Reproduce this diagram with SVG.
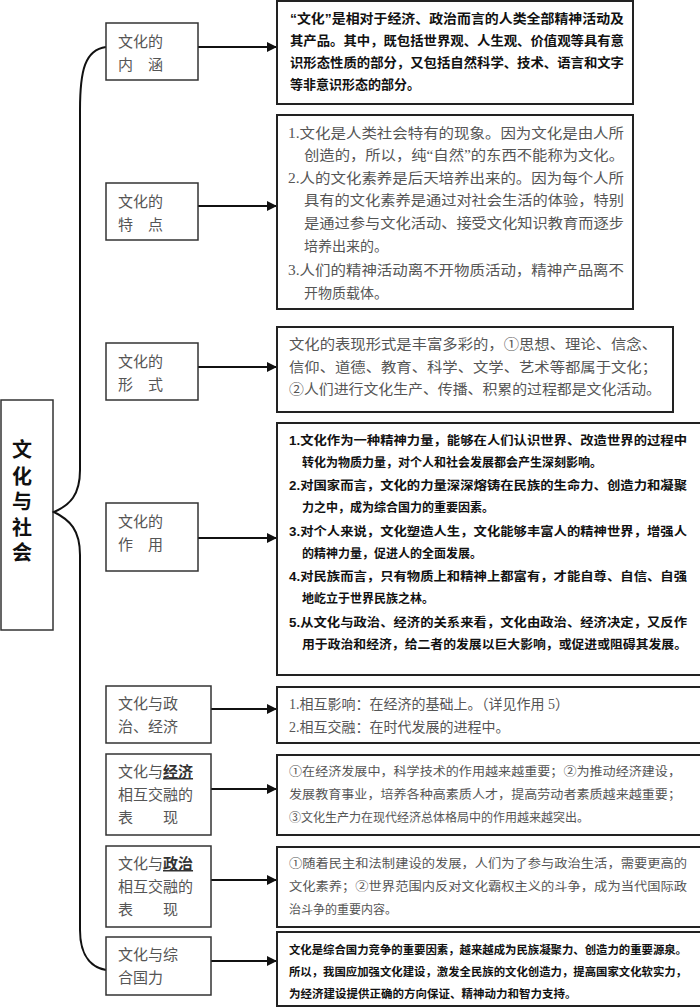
<svg xmlns="http://www.w3.org/2000/svg" width="700" height="1008" viewBox="0 0 700 1008">
<defs>
<style>
.box{fill:#fff;stroke:#222;stroke-width:2}
.nbox{fill:#fff;stroke:#333;stroke-width:1.5}
.n{font-family:"Liberation Serif","Noto Sans CJK SC",serif;font-size:15px;fill:#555}
.g{font-family:"Liberation Serif","Noto Sans CJK SC",serif;fill:#555}
.b{font-family:"Liberation Sans","Noto Sans CJK SC",sans-serif;font-weight:bold;fill:#111}
.c{fill:none;stroke:#111;stroke-width:2}
</style>
<marker id="ah" viewBox="0 0 10 10" refX="9" refY="5" markerWidth="5" markerHeight="5" orient="auto"><path d="M0,0L10,5L0,10z" fill="#111"/></marker>
</defs>
<rect width="700" height="1008" fill="#fff"/>
<g id="root"><rect class="nbox" x="1" y="400" width="52" height="230"/>
<text class="b" font-size="20" x="22" y="457" text-anchor="middle">文</text>
<text class="b" font-size="20" x="22" y="484" text-anchor="middle">化</text>
<text class="b" font-size="20" x="22" y="509" text-anchor="middle">与</text>
<text class="b" font-size="20" x="22" y="535" text-anchor="middle">社</text>
<text class="b" font-size="20" x="22" y="560" text-anchor="middle">会</text></g>
<g id="connectors">
<path class="c" d="M106,47 C85,50 80,70 80,110 L80,470 C80,495 70,505 54,512 C70,520 80,530 80,555 L80,930 C80,960 95,968 106,970"/>
<path class="c" d="M198,47 H276" marker-end="url(#ah)"/>
<path class="c" d="M198,206 H276" marker-end="url(#ah)"/>
<path class="c" d="M198,367 H276" marker-end="url(#ah)"/>
<path class="c" d="M198,538 H276" marker-end="url(#ah)"/>
<path class="c" d="M211,709 H276" marker-end="url(#ah)"/>
<path class="c" d="M211,789 H276" marker-end="url(#ah)"/>
<path class="c" d="M211,880 H276" marker-end="url(#ah)"/>
<path class="c" d="M211,961 H276" marker-end="url(#ah)"/>
</g>
<g id="n1"><rect class="nbox" x="106" y="23" width="92" height="57"/><text class="n" x="118" y="47">文化的</text><text class="n" x="118" y="70">内　涵</text></g>
<g id="n2"><rect class="nbox" x="106" y="183" width="92" height="57"/><text class="n" x="118" y="207">文化的</text><text class="n" x="118" y="230">特　点</text></g>
<g id="n3"><rect class="nbox" x="106" y="343" width="92" height="57"/><text class="n" x="118" y="367">文化的</text><text class="n" x="118" y="390">形　式</text></g>
<g id="n4"><rect class="nbox" x="106" y="503" width="92" height="68"/><text class="n" x="118" y="527">文化的</text><text class="n" x="118" y="550">作　用</text></g>
<g id="n5"><rect class="nbox" x="106" y="686" width="105" height="57"/><text class="n" x="118" y="709">文化与政</text><text class="n" x="118" y="732">治、经济</text></g>
<g id="n6"><rect class="nbox" x="106" y="754" width="105" height="81"/><text class="n" x="118" y="777">文化与<tspan text-decoration="underline" font-weight="bold" fill="#333">经济</tspan></text><text class="n" x="118" y="800">相互交融的</text><text class="n" x="118" y="823">表　　现</text></g>
<g id="n7"><rect class="nbox" x="106" y="846" width="105" height="81"/><text class="n" x="118" y="869">文化与<tspan text-decoration="underline" font-weight="bold" fill="#333">政治</tspan></text><text class="n" x="118" y="892">相互交融的</text><text class="n" x="118" y="915">表　　现</text></g>
<g id="n8"><rect class="nbox" x="106" y="937" width="105" height="58"/><text class="n" x="118" y="960">文化与综</text><text class="n" x="118" y="983">合国力</text></g>

<g id="t1"><rect class="box" x="277" y="1" width="356" height="103"/>
<g class="b" font-size="13"><text x="290" y="23" textLength="334" lengthAdjust="spacingAndGlyphs">“文化”是相对于经济、政治而言的人类全部精神活动及</text><text x="290" y="45" textLength="334" lengthAdjust="spacingAndGlyphs">其产品。其中，既包括世界观、人生观、价值观等具有意</text><text x="290" y="67" textLength="334" lengthAdjust="spacingAndGlyphs">识形态性质的部分，又包括自然科学、技术、语言和文字</text><text x="290" y="89">等非意识形态的部分。</text></g></g>
<g id="t2"><rect class="box" x="277" y="115" width="356" height="194"/>
<g class="g" font-size="14"><text x="288" y="138" textLength="336" lengthAdjust="spacingAndGlyphs">1.文化是人类社会特有的现象。因为文化是由人所</text><text x="304" y="160" textLength="320" lengthAdjust="spacingAndGlyphs">创造的，所以，纯“自然”的东西不能称为文化。</text><text x="288" y="183" textLength="336" lengthAdjust="spacingAndGlyphs">2.人的文化素养是后天培养出来的。因为每个人所</text><text x="304" y="205" textLength="320" lengthAdjust="spacingAndGlyphs">具有的文化素养是通过对社会生活的体验，特别</text><text x="304" y="228" textLength="320" lengthAdjust="spacingAndGlyphs">是通过参与文化活动、接受文化知识教育而逐步</text><text x="304" y="251">培养出来的。</text><text x="288" y="275" textLength="336" lengthAdjust="spacingAndGlyphs">3.人们的精神活动离不开物质活动，精神产品离不</text><text x="304" y="298">开物质载体。</text></g></g>
<g id="t3"><rect class="box" x="277" y="327" width="396" height="85"/>
<g class="g" font-size="14"><text x="289" y="349" textLength="368" lengthAdjust="spacingAndGlyphs">文化的表现形式是丰富多彩的，①思想、理论、信念、</text><text x="289" y="372" textLength="368" lengthAdjust="spacingAndGlyphs">信仰、道德、教育、科学、文学、艺术等都属于文化；</text><text x="289" y="394" textLength="372" lengthAdjust="spacingAndGlyphs">②人们进行文化生产、传播、积累的过程都是文化活动。</text></g></g>
<g id="t4"><rect class="box" x="277" y="423" width="430" height="252"/>
<g class="b" font-size="12"><text x="289" y="445" textLength="398" lengthAdjust="spacingAndGlyphs">1.文化作为一种精神力量，能够在人们认识世界、改造世界的过程中</text><text x="302" y="467">转化为物质力量，对个人和社会发展都会产生深刻影响。</text><text x="289" y="490" textLength="398" lengthAdjust="spacingAndGlyphs">2.对国家而言，文化的力量深深熔铸在民族的生命力、创造力和凝聚</text><text x="302" y="512">力之中，成为综合国力的重要因素。</text><text x="289" y="536" textLength="398" lengthAdjust="spacingAndGlyphs">3.对个人来说，文化塑造人生，文化能够丰富人的精神世界，增强人</text><text x="302" y="558">的精神力量，促进人的全面发展。</text><text x="289" y="581" textLength="398" lengthAdjust="spacingAndGlyphs">4.对民族而言，只有物质上和精神上都富有，才能自尊、自信、自强</text><text x="302" y="603">地屹立于世界民族之林。</text><text x="289" y="627" textLength="398" lengthAdjust="spacingAndGlyphs">5.从文化与政治、经济的关系来看，文化由政治、经济决定，又反作</text><text x="302" y="649" textLength="385" lengthAdjust="spacingAndGlyphs">用于政治和经济，给二者的发展以巨大影响，或促进或阻碍其发展。</text></g></g>
<g id="t5"><rect class="box" x="277" y="687" width="430" height="56"/>
<g class="g" font-size="14"><text x="289" y="709">1.相互影响：在经济的基础上。（详见作用 5）</text><text x="289" y="732">2.相互交融：在时代发展的进程中。</text></g></g>
<g id="t6"><rect class="box" x="277" y="755" width="430" height="80"/>
<g class="g" font-size="12"><text x="289" y="776" textLength="392" lengthAdjust="spacingAndGlyphs">①在经济发展中，科学技术的作用越来越重要；②为推动经济建设，</text><text x="289" y="799" textLength="392" lengthAdjust="spacingAndGlyphs">发展教育事业，培养各种高素质人才，提高劳动者素质越来越重要；</text><text x="289" y="822">③文化生产力在现代经济总体格局中的作用越来越突出。</text></g></g>
<g id="t7"><rect class="box" x="277" y="847" width="430" height="80"/>
<g class="g" font-size="12"><text x="289" y="868" textLength="398" lengthAdjust="spacingAndGlyphs">①随着民主和法制建设的发展，人们为了参与政治生活，需要更高的</text><text x="289" y="891" textLength="398" lengthAdjust="spacingAndGlyphs">文化素养；②世界范围内反对文化霸权主义的斗争，成为当代国际政</text><text x="289" y="914">治斗争的重要内容。</text></g></g>
<g id="t8"><rect class="box" x="277" y="932" width="430" height="74"/>
<g class="b" font-size="11.5"><text x="289" y="954" textLength="398" lengthAdjust="spacingAndGlyphs">文化是综合国力竞争的重要因素，越来越成为民族凝聚力、创造力的重要源泉。</text><text x="289" y="976" textLength="398" lengthAdjust="spacingAndGlyphs">所以，我国应加强文化建设，激发全民族的文化创造力，提高国家文化软实力，</text><text x="289" y="998">为经济建设提供正确的方向保证、精神动力和智力支持。</text></g></g>
</svg>
